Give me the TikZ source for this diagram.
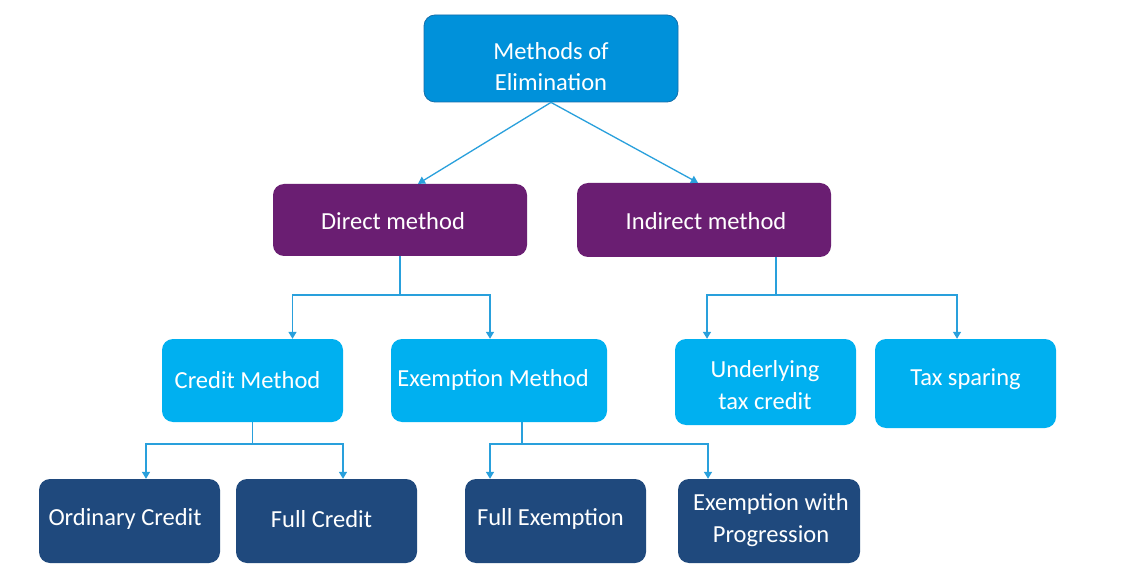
\documentclass[tikz,border=0pt]{standalone}
\usepackage{fontspec}
\setmainfont{Carlito}
\usetikzlibrary{arrows.meta}
\definecolor{topblue}{RGB}{0,145,218}
\definecolor{topedge}{RGB}{20,110,170}
\definecolor{purp}{RGB}{106,30,114}
\definecolor{lightb}{RGB}{0,176,240}
\definecolor{navy}{RGB}{31,73,125}
\definecolor{conncol}{RGB}{41,160,220}
\tikzset{
  box/.style={rectangle, rounded corners=11pt, inner sep=0pt},
  txt/.style={inner sep=0pt, text=white, align=center, font=\fontsize{24.5}{31.5}\selectfont},
  topbox/.style={box, fill=topblue, draw=topedge, line width=0.8pt},
  midbox/.style={box, fill=purp},
  lowbox/.style={box, fill=lightb},
  botbox/.style={box, fill=navy},
  conn/.style={draw=conncol, line width=1.3pt},
  arr/.style={conn, -{Triangle[width=8pt,length=7pt]}}
}
\begin{document}
\begin{tikzpicture}[x=1pt,y=-1pt]
\useasboundingbox (0,0) rectangle (1122,564);
\fill[white] (0,0) rectangle (1122,564);
% boxes
\node[topbox, minimum width=254pt, minimum height=87pt] (top) at (551,58.5) {};
\node[midbox, minimum width=254pt, minimum height=72pt] (direct) at (400,220) {};
\node[midbox, minimum width=254pt, minimum height=74pt] (indirect) at (704,220) {};
\node[lowbox, minimum width=181pt, minimum height=83pt] (credit) at (252.5,380.5) {};
\node[lowbox, minimum width=216pt, minimum height=83pt] (exempt) at (499,380.5) {};
\node[lowbox, minimum width=181pt, minimum height=86pt] (under) at (765.5,382) {};
\node[lowbox, minimum width=181pt, minimum height=89pt] (spar) at (965.5,383.5) {};
\node[botbox, minimum width=181pt, minimum height=84pt] (ord) at (129.5,521) {};
\node[botbox, minimum width=181pt, minimum height=84pt] (full) at (326.5,521) {};
\node[botbox, minimum width=181pt, minimum height=84pt] (fullex) at (555.5,521) {};
\node[botbox, minimum width=182pt, minimum height=84pt] (prog) at (769,521) {};
% texts
\node[txt] (topt) at (551,66.5) {Methods of\\Elimination};
\node[txt] (directt) at (393,221) {Direct method};
\node[txt] (indirectt) at (706,221) {Indirect method};
\node[txt] (creditt) at (247.5,380) {Credit Method};
\node[txt] (exemptt) at (493,380) {Exemption Method};
\node[txt] (undert) at (765,385) {Underlying\\tax credit};
\node[txt] (spart) at (965.5,379) {Tax sparing};
\node[txt] (ordt) at (125,519) {Ordinary Credit};
\node[txt] (fullt) at (321.5,519) {Full Credit};
\node[txt] (fullext) at (550.5,519) {Full Exemption};
\node[txt] (progt) at (771,520) {Exemption with\\Progression};
% bus coordinates
\coordinate (b1) at (400,295);
\coordinate (b2) at (776,295);
\coordinate (b3) at (252.5,444);
\coordinate (b4) at (522,444);
% connectors
\draw[arr] (top.south) -- ([xshift=18pt]direct.north);
\draw[arr] (top.south) -- ([xshift=-6pt]indirect.north);
\draw[conn] (direct.south) -- (b1);
\draw[arr] (b1) -| ([xshift=40pt]credit.north);
\draw[arr] (b1) -| ([xshift=-9pt]exempt.north);
\draw[conn] ([xshift=72pt]indirect.south) -- (b2);
\draw[arr] (b2) -| ([xshift=-58.5pt]under.north);
\draw[arr] (b2) -| ([xshift=-8.5pt]spar.north);
\draw[conn] (credit.south) -- (b3);
\draw[arr] (b3) -| ([xshift=16.5pt]ord.north);
\draw[arr] (b3) -| ([xshift=16.5pt]full.north);
\draw[conn] ([xshift=23pt]exempt.south) -- (b4);
\draw[arr] (b4) -| ([xshift=-65.5pt]fullex.north);
\draw[arr] (b4) -| ([xshift=-61pt]prog.north);
\end{tikzpicture}
\end{document}
